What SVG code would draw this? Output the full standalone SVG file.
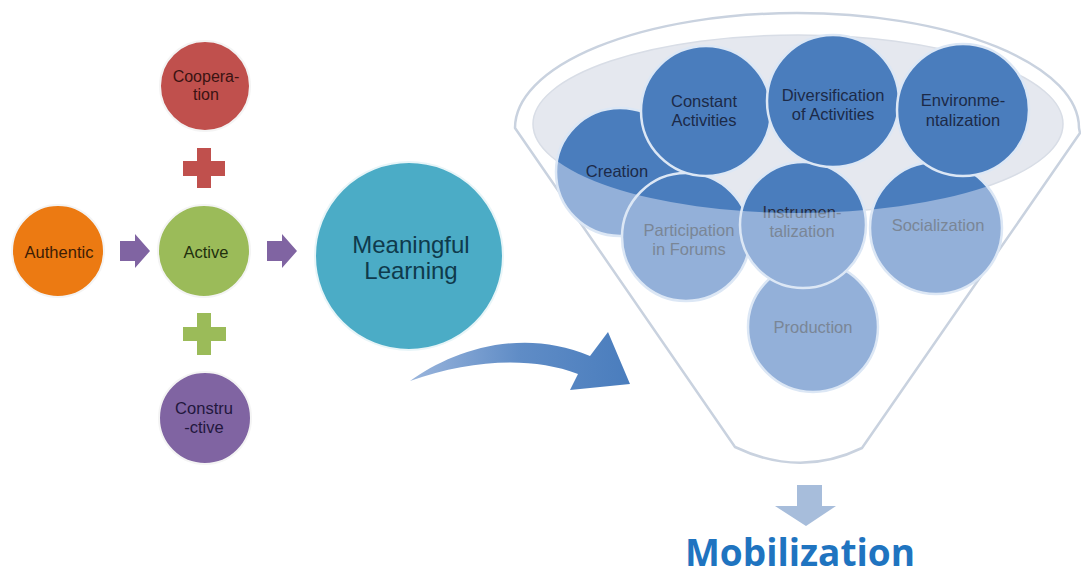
<svg xmlns="http://www.w3.org/2000/svg" width="1081" height="578" viewBox="0 0 1081 578">
<defs>
<style>
.t{font-family:"Liberation Sans",Arial,sans-serif;text-anchor:middle;dominant-baseline:central}
.lc{stroke:#f4f4f4;stroke-width:2}
.top{fill:#4a7dbd;stroke:#dce7f5;stroke-width:2.5}
.lo{fill:#93b0d9}
.dk{fill:#4a7dbd}
.ring{fill:none;stroke:#dce7f5;stroke-width:2.5}
.gt{fill:#7a8696;font-size:16.5px}
.dt{fill:#1c2a48;font-size:16.5px}
.arr{fill:#8064a2}
</style>
<clipPath id="ell"><ellipse cx="798" cy="124" rx="265" ry="89"/></clipPath>
<linearGradient id="cg" x1="0" x2="1" y1="0" y2="0">
<stop offset="0" stop-color="#9ab5dc"/><stop offset="0.5" stop-color="#5f8cc6"/><stop offset="1" stop-color="#4a7dbd"/>
</linearGradient>
</defs>
<rect width="1081" height="578" fill="#ffffff"/>

<g id="funnel">
<path d="M 515 128 A 282 115 0 0 1 1079 128 L 1080 133 L 862 448 Q 800 478 735 447 Z" fill="#ffffff" stroke="#c9d2df" stroke-width="2.5" stroke-linejoin="round"/>
<ellipse cx="798" cy="124" rx="265" ry="89" fill="#e5e8ef" stroke="#d8dde6" stroke-width="1.5"/>
</g>

<g id="production">
<circle class="lo" cx="813" cy="327" r="65"/>
<circle class="ring" cx="813" cy="327" r="65"/>
<text class="t gt" x="813" y="327">Production</text>
</g>
<g id="creation">
<circle class="lo" cx="620" cy="172" r="64"/>
<circle class="dk" cx="620" cy="172" r="64" clip-path="url(#ell)"/>
<circle class="ring" cx="620" cy="172" r="64"/>
<text class="t dt" x="617" y="171">Creation</text>
</g>
<g id="participation">
<circle class="lo" cx="686" cy="237" r="64"/>
<circle class="dk" cx="686" cy="237" r="64" clip-path="url(#ell)"/>
<circle class="ring" cx="686" cy="237" r="64"/>
<text class="t gt" x="689" y="230">Participation</text>
<text class="t gt" x="689" y="249">in Forums</text>
</g>
<g id="instrumentalization">
<circle class="lo" cx="803" cy="225" r="63"/>
<circle class="dk" cx="803" cy="225" r="63" clip-path="url(#ell)"/>
<circle class="ring" cx="803" cy="225" r="63"/>
<text class="t gt" x="802" y="212">Instrumen-</text>
<text class="t gt" x="802" y="231">talization</text>
<g clip-path="url(#ell)">
<text class="t dt" x="802" y="212">Instrumen-</text>
</g>
</g>
<g id="socialization">
<circle class="lo" cx="936" cy="228" r="66"/>
<circle class="dk" cx="936" cy="228" r="66" clip-path="url(#ell)"/>
<circle class="ring" cx="936" cy="228" r="66"/>
<text class="t gt" x="938" y="225">Socialization</text>
</g>
<g id="constant-activities">
<circle class="top" cx="706" cy="111" r="65"/>
<text class="t dt" x="704" y="101">Constant</text>
<text class="t dt" x="704" y="120">Activities</text>
</g>
<g id="diversification">
<circle class="top" cx="833" cy="101" r="66"/>
<text class="t dt" x="833" y="95">Diversification</text>
<text class="t dt" x="833" y="114">of Activities</text>
</g>
<g id="environmentalization">
<circle class="top" cx="963" cy="110" r="66"/>
<text class="t dt" x="963" y="100">Environme-</text>
<text class="t dt" x="963" y="120">ntalization</text>
</g>

<g id="cooperation">
<circle class="lc" cx="205" cy="86" r="45" fill="#c0504d"/>
<text class="t" x="206" y="76" font-size="16" fill="#3a1312">Coopera-</text>
<text class="t" x="206" y="94" font-size="16" fill="#3a1312">tion</text>
</g>
<g id="authentic">
<circle class="lc" cx="58" cy="251" r="46" fill="#ec7a12"/>
<text class="t" x="59" y="252" font-size="16.5" fill="#3d1d05">Authentic</text>
</g>
<g id="active">
<circle class="lc" cx="204" cy="251" r="46" fill="#9bbb59"/>
<text class="t" x="206" y="252" font-size="16.5" fill="#22300d">Active</text>
</g>
<g id="constructive">
<circle class="lc" cx="205" cy="418" r="46" fill="#8064a2"/>
<text class="t" x="204" y="408" font-size="16.5" fill="#22173d">Constru</text>
<text class="t" x="204" y="427" font-size="16.5" fill="#22173d">-ctive</text>
</g>
<g id="meaningful-learning">
<circle cx="409" cy="256" r="94" fill="#4bacc6" stroke="#e8f5f8" stroke-width="2"/>
<text class="t" x="411" y="244" font-size="24" fill="#0f3a4c">Meaningful</text>
<text class="t" x="411" y="270" font-size="24" fill="#0f3a4c">Learning</text>
</g>
<g id="mobilization">
<text x="800" y="566" font-family="'Open Sans','Liberation Sans',sans-serif" font-weight="700" font-size="37" fill="#1f74c0" text-anchor="middle">Mobilization</text>
</g>

<g id="connectors">
<path class="arr" d="M 120 241 L 135 241 L 135 234 L 150 251 L 135 268 L 135 261 L 120 261 Z"/>
<path class="arr" d="M 267 241 L 282 241 L 282 234 L 297 251 L 282 268 L 282 261 L 267 261 Z"/>
<path fill="#c0504d" d="M 197 148 H 211 V 161 H 225 V 176 H 211 V 188 H 197 V 176 H 183 V 161 H 197 Z"/>
<path fill="#9bbb59" d="M 197 313 H 211 V 327 H 226 V 341 H 211 V 355 H 197 V 341 H 183 V 327 H 197 Z"/>
<path fill="url(#cg)" d="M 410 381 C 450 352, 520 326, 590 356 L 608 332 L 630 384 L 570 390 L 578 374 C 530 356, 470 360, 410 381 Z"/>
<path fill="#a7bddb" d="M 797 485 H 822 V 506 H 836 L 806 526 L 775 506 H 797 Z"/>
</g>
</svg>
